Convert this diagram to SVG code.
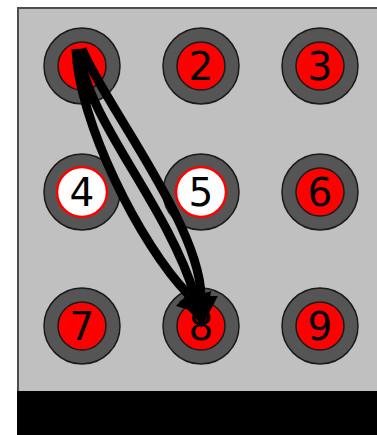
<svg xmlns="http://www.w3.org/2000/svg" width="377" height="435" viewBox="0 0 377 435">
<defs>
<style>
.ring{fill:#555555;stroke:#1a1a1a;stroke-width:1.5}
.on{fill:#ff0000;stroke:#1a1a1a;stroke-width:1.5}
.off{fill:#ffffff;stroke:#ff0000;stroke-width:2.5}
.lbl{font-family:"DejaVu Sans",sans-serif;font-size:39px;fill:#000;text-anchor:middle}
.edge{fill:none;stroke:#000;stroke-width:9}
</style>
<marker id="ah" viewBox="0 0 32 34" refX="0" refY="17" markerWidth="32" markerHeight="34" markerUnits="userSpaceOnUse" orient="auto">
<path d="M0,0 L32,17 L0,34 z" fill="#000"/>
</marker>
</defs>
<rect x="0" y="0" width="377" height="435" fill="#ffffff"/>
<rect x="18" y="8" width="400" height="384" fill="#c0c0c0" stroke="#4d4d4d" stroke-width="2"/>
<rect x="17" y="391" width="362" height="44" fill="#000"/>
<g id="node1"><circle class="ring" cx="82" cy="66" r="38"/><circle class="on" cx="82" cy="66" r="24"/></g>
<g id="node2"><circle class="ring" cx="201" cy="66" r="38"/><circle class="on" cx="201" cy="66" r="24"/><text class="lbl" x="201" y="80">2</text></g>
<g id="node3"><circle class="ring" cx="320" cy="66" r="38"/><circle class="on" cx="320" cy="66" r="24"/><text class="lbl" x="320" y="80">3</text></g>
<g id="node4"><circle class="ring" cx="82" cy="192" r="38"/><circle class="off" cx="82" cy="192" r="25"/><text class="lbl" x="82" y="206">4</text></g>
<g id="node5"><circle class="ring" cx="201" cy="192" r="38"/><circle class="off" cx="201" cy="192" r="25"/><text class="lbl" x="201" y="206">5</text></g>
<g id="node6"><circle class="ring" cx="320" cy="192" r="38"/><circle class="on" cx="320" cy="192" r="24"/><text class="lbl" x="320" y="206">6</text></g>
<g id="node7"><circle class="ring" cx="82" cy="326" r="38"/><circle class="on" cx="82" cy="326" r="24"/><text class="lbl" x="82" y="340">7</text></g>
<g id="node8"><circle class="ring" cx="201" cy="326" r="38"/><circle class="on" cx="201" cy="326" r="24"/><text class="lbl" x="201" y="340">8</text></g>
<g id="node9"><circle class="ring" cx="320" cy="326" r="38"/><circle class="on" cx="320" cy="326" r="24"/><text class="lbl" x="320" y="340">9</text></g>
<g id="connectors">
<path class="edge" d="M76,49 C78,120 140,245 188,294" marker-end="url(#ah)"/>
<path class="edge" d="M79,49 C86,120 165,200 195,296" marker-end="url(#ah)"/>
<path class="edge" d="M82,49 C102,100 200,225 201,296" marker-end="url(#ah)"/>
</g>
</svg>
